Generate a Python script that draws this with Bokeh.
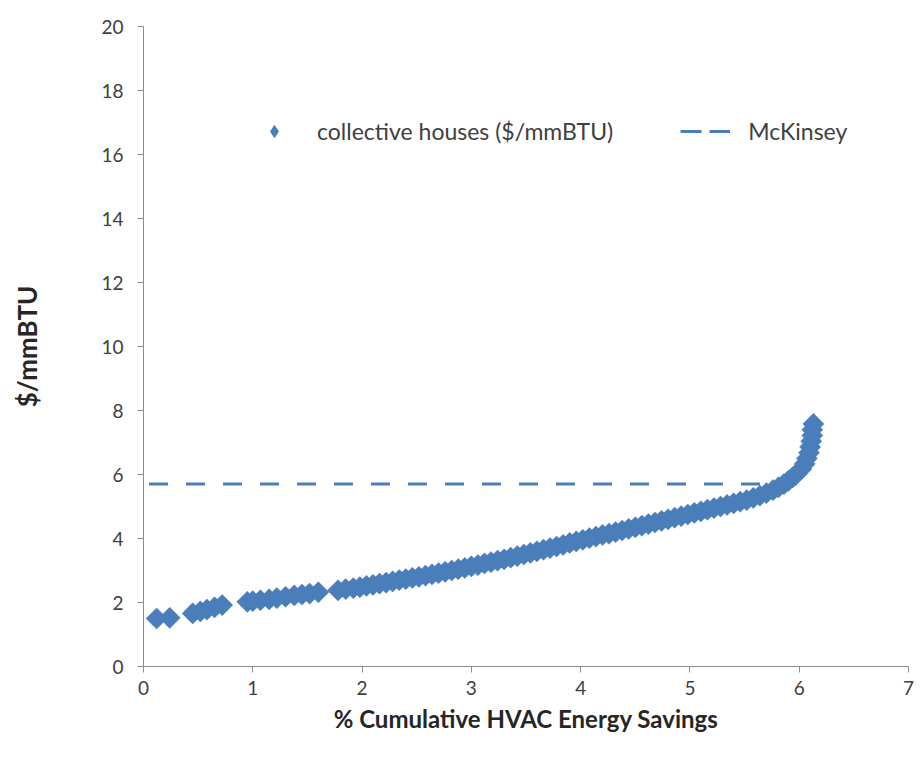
import numpy as np
from bokeh.plotting import figure
from bokeh.models import Range1d, FixedTicker, Legend, LegendItem
from bokeh.embed import file_html
from bokeh.resources import INLINE

# Cumulative HVAC energy savings (%) and cost of conserved energy ($/mmBTU)
savings_pct = [
    0.12, 0.24, 0.45, 0.52, 0.58, 0.65, 0.72,
    0.95, 1.00, 1.07, 1.15, 1.22, 1.30, 1.38, 1.45, 1.52, 1.60,
    1.78, 1.85, 1.92, 1.98, 2.04, 2.10, 2.16, 2.22, 2.28, 2.34, 2.40,
    2.46, 2.52, 2.58, 2.64, 2.70, 2.76, 2.82, 2.88, 2.94, 3.00, 3.06,
    3.12, 3.18, 3.24, 3.30, 3.36, 3.42, 3.48, 3.54, 3.60, 3.66, 3.72,
    3.78, 3.84, 3.90, 3.96, 4.02, 4.08, 4.14, 4.20, 4.26, 4.32, 4.38,
    4.44, 4.50, 4.56, 4.62, 4.68, 4.74, 4.80, 4.86, 4.92, 4.98, 5.04,
    5.10, 5.16, 5.22, 5.28, 5.34, 5.40, 5.46, 5.52, 5.58, 5.64, 5.70,
    5.76, 5.81, 5.86, 5.90, 5.94, 5.98, 6.02, 6.05, 6.07, 6.09, 6.10,
    6.11, 6.12, 6.12, 6.13,
]
cost_per_mmbtu = [
    1.50, 1.52, 1.66, 1.72, 1.78, 1.85, 1.92,
    2.02, 2.04, 2.07, 2.10, 2.14, 2.18, 2.22, 2.25, 2.28, 2.32,
    2.38, 2.42, 2.45, 2.48, 2.52, 2.55, 2.59, 2.62, 2.66, 2.70, 2.73,
    2.77, 2.80, 2.84, 2.88, 2.92, 2.96, 3.00, 3.04, 3.08, 3.13, 3.17,
    3.22, 3.26, 3.31, 3.35, 3.40, 3.45, 3.50, 3.55, 3.60, 3.65, 3.70,
    3.75, 3.80, 3.86, 3.91, 3.96, 4.01, 4.06, 4.11, 4.15, 4.20, 4.25,
    4.30, 4.35, 4.40, 4.45, 4.50, 4.55, 4.60, 4.65, 4.70, 4.75, 4.80,
    4.85, 4.90, 4.95, 5.00, 5.05, 5.10, 5.15, 5.20, 5.27, 5.34, 5.42,
    5.51, 5.60, 5.70, 5.80, 5.91, 6.03, 6.17, 6.33, 6.50, 6.68, 6.86,
    7.04, 7.22, 7.40, 7.58,
]

# McKinsey reference cost level
mckinsey_x = [0.05, 6.05]
mckinsey_y = [5.7, 5.7]

x_ticks = [0, 1, 2, 3, 4, 5, 6, 7]
y_ticks = [0, 2, 4, 6, 8, 10, 12, 14, 16, 18, 20]

BLUE = "#4A7EBB"
FONT = "Lato"

p = figure(
    width=921, height=762,
    output_backend="svg", toolbar_location=None,
    x_range=Range1d(0, 7), y_range=Range1d(0, 20),
    min_border_left=143, min_border_right=13,
    min_border_top=26, min_border_bottom=96,
)
p.outline_line_color = None
p.grid.visible = False
p.background_fill_color = "white"
p.border_fill_color = "white"

# diamonds drawn as squares turned by 45 degrees
pts = p.scatter(savings_pct, cost_per_mmbtu, marker="square", angle=np.pi / 4,
                size=15, fill_color=BLUE, line_color=BLUE, line_width=0.5)
ref = p.line(mckinsey_x, mckinsey_y, line_color=BLUE, line_width=3,
             line_dash="19 18")

# legend-only swatches (single NaN point, nothing drawn in the frame)
swatch_pts = p.scatter([np.nan], [np.nan], marker="diamond",
                       fill_color=BLUE, line_color=BLUE)
swatch_ref = p.line([np.nan, np.nan], [np.nan, np.nan], line_color=BLUE,
                    line_width=3, line_dash="21 8")

for ax in (p.xaxis[0], p.yaxis[0]):
    ax.axis_line_color = "#8C8C8C"
    ax.major_tick_line_color = "#8C8C8C"
    ax.major_tick_in = 0
    ax.major_tick_out = 6
    ax.minor_tick_line_color = None
    ax.major_label_text_font = FONT
    ax.major_label_text_font_size = "19px"
    ax.major_label_text_color = "#404040"
    ax.axis_label_text_font = FONT
    ax.axis_label_text_font_style = "bold"
    ax.axis_label_text_color = "#262626"

p.xaxis.ticker = FixedTicker(ticks=x_ticks)
p.yaxis.ticker = FixedTicker(ticks=y_ticks)
p.xaxis.axis_label = "% Cumulative HVAC Energy Savings"
p.yaxis.axis_label = "$/mmBTU"
p.xaxis.axis_label_text_font_size = "24px"
p.yaxis.axis_label_text_font_size = "26px"
p.xaxis.major_label_standoff = 8
p.xaxis.axis_label_standoff = 6
p.yaxis.major_label_standoff = 14
p.yaxis.axis_label_standoff = 55

legend = Legend(
    items=[LegendItem(label="collective houses ($/mmBTU)", renderers=[swatch_pts]),
           LegendItem(label="McKinsey", renderers=[swatch_ref])],
    orientation="horizontal", location=(106, 520),
    padding=0, margin=0, spacing=67,
    glyph_width=50, glyph_height=30, label_standoff=18,
    label_text_font=FONT, label_text_font_size="23px",
    label_text_color="#404040",
    border_line_alpha=0, background_fill_alpha=0,
)
p.add_layout(legend)

open("out.html", "w").write(file_html(p, INLINE))
